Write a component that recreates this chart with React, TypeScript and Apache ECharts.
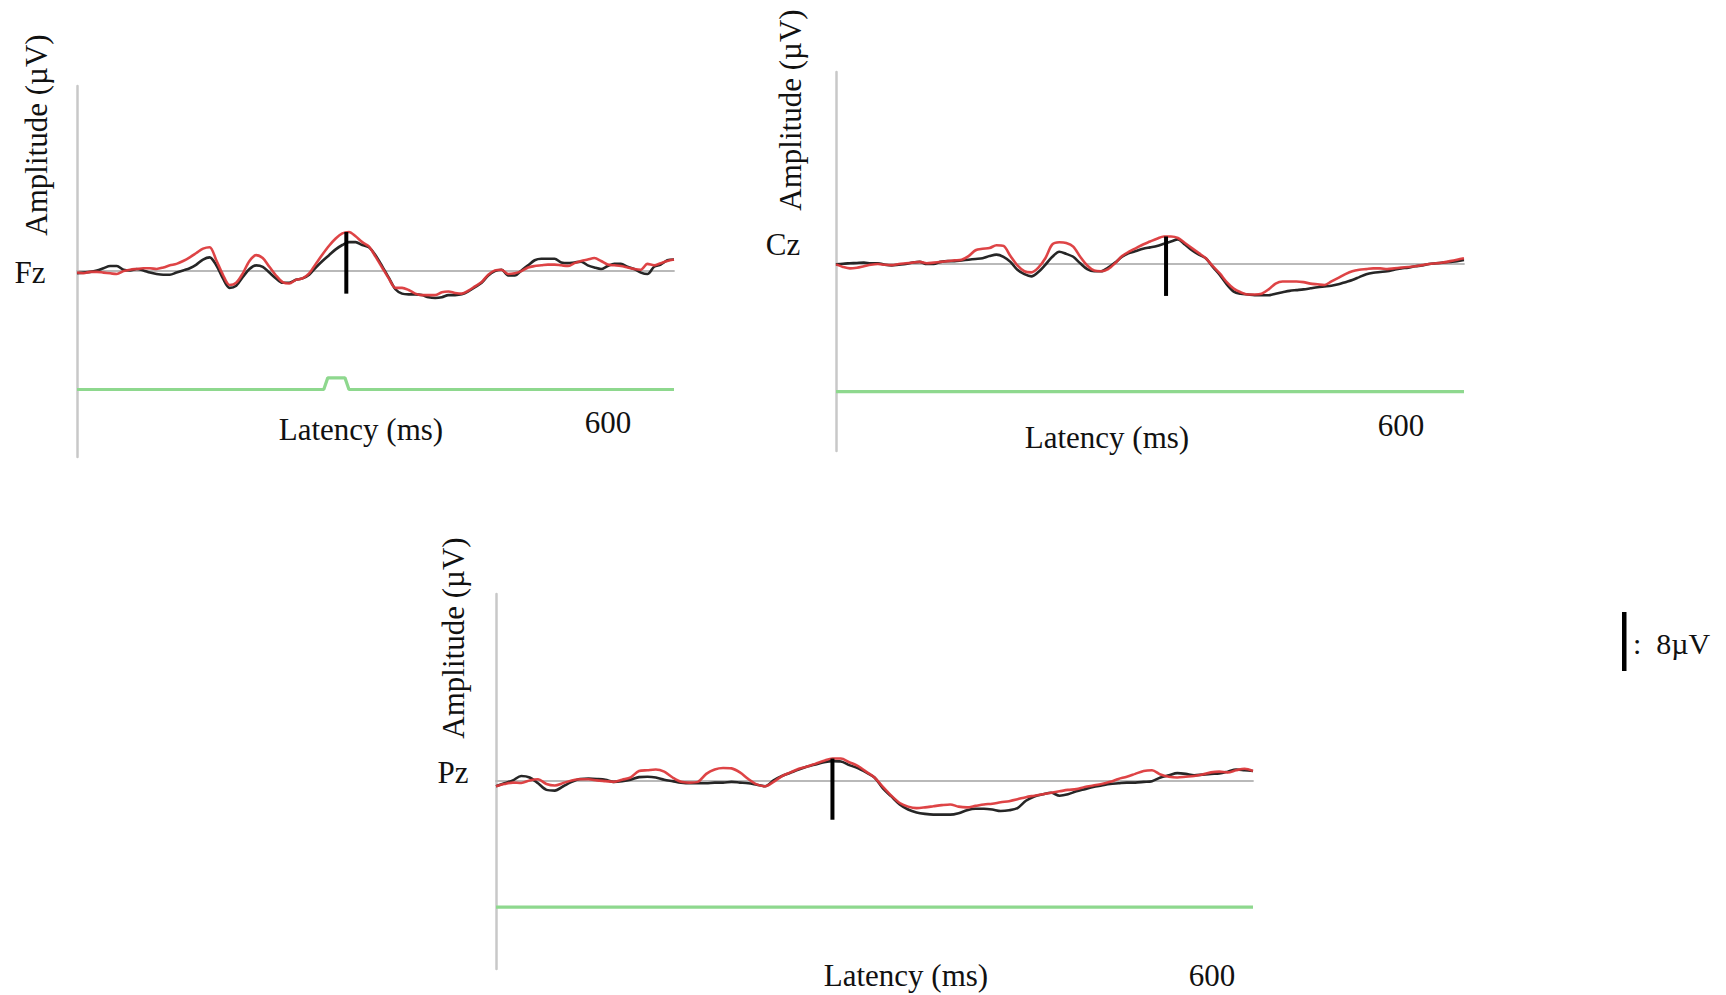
import React, { useEffect, useRef } from "react";
import * as echarts from "echarts";

// Sampling grid (ms)
const TIMES: number[] = [];
for (let t = -200; t <= 700; t += 10) TIMES.push(t);

// Fz (µV)
const FZ_BLACK = [-0.3,-0.2,-0.1,0.1,0.4,0.7,0.7,0.2,0.1,0.3,0.1,-0.2,-0.4,-0.5,-0.5,-0.2,0.1,0.4,0.9,1.6,1.9,0.8,-1.0,-2.3,-2.0,-0.8,0.3,0.8,0.6,-0.2,-1.0,-1.6,-1.6,-1.2,-1.0,-0.5,0.5,1.4,2.2,3.0,3.6,4.0,4.0,3.6,3.3,2.2,0.7,-0.9,-2.5,-3.1,-3.2,-3.2,-3.3,-3.6,-3.7,-3.6,-3.3,-3.3,-3.2,-2.8,-2.2,-1.6,-0.6,0.0,0.2,-0.6,-0.6,0.1,0.8,1.5,1.7,1.7,1.7,1.2,1.1,1.2,1.3,0.8,0.5,0.3,0.7,1.0,1.0,0.6,0.3,-0.2,-0.4,0.6,0.9,1.5,1.6];
const FZ_RED = [-0.2,-0.3,-0.1,-0.1,-0.2,-0.3,-0.4,0.0,0.2,0.3,0.4,0.4,0.3,0.5,0.8,1.0,1.4,1.9,2.5,3.1,3.3,1.5,-0.5,-1.9,-1.6,-0.3,1.4,2.2,1.8,0.6,-0.6,-1.5,-1.7,-1.2,-1.0,-0.3,1.0,2.3,3.5,4.5,5.2,5.4,4.8,4.0,3.4,2.0,0.5,-1.0,-2.3,-2.3,-2.6,-3.1,-3.3,-3.3,-3.3,-2.9,-2.8,-3.0,-3.1,-2.7,-2.1,-1.5,-0.5,0.1,0.2,-0.4,-0.3,0.0,0.5,0.7,0.8,0.9,0.9,0.8,0.7,1.1,1.4,1.6,1.8,1.4,0.9,0.8,0.7,0.5,0.3,0.2,1.0,0.8,1.1,1.4,1.6];

// Cz (µV)
const CZ_BLACK = [-0.15,-0.05,0.0,0.05,0.1,0.0,0.0,-0.2,-0.3,-0.2,-0.1,0.1,0.2,-0.1,-0.1,0.2,0.3,0.3,0.4,0.5,0.6,0.7,1.0,1.2,0.9,0.2,-0.9,-1.5,-1.8,-1.2,-0.2,0.9,1.6,1.3,0.9,0.0,-0.8,-1.1,-1.1,-0.6,0.1,0.9,1.4,1.7,2.0,2.2,2.4,2.7,3.0,3.3,2.6,1.8,1.2,0.7,-0.5,-1.6,-2.9,-3.9,-4.2,-4.3,-4.4,-4.4,-4.4,-4.2,-4.0,-3.8,-3.7,-3.6,-3.45,-3.3,-3.2,-3.1,-2.9,-2.6,-2.3,-1.9,-1.5,-1.3,-1.2,-1.1,-0.9,-0.7,-0.6,-0.4,-0.3,-0.1,0.0,0.1,0.2,0.3,0.45];
const CZ_RED = [-0.15,-0.5,-0.7,-0.6,-0.4,-0.2,-0.1,-0.2,-0.25,-0.1,0.0,0.1,0.2,0.0,0.1,0.2,0.3,0.4,0.5,1.0,1.8,2.0,2.1,2.5,2.4,1.0,-0.3,-1.1,-1.25,-0.6,0.7,2.6,2.9,2.8,2.3,0.9,-0.3,-1.0,-1.1,-0.8,0.0,1.0,1.6,2.1,2.6,3.0,3.4,3.7,3.7,3.5,2.8,2.1,1.4,0.7,-0.4,-1.4,-2.6,-3.5,-4.0,-4.3,-4.3,-4.2,-3.6,-2.8,-2.5,-2.5,-2.5,-2.6,-2.8,-2.9,-3.0,-2.5,-2.0,-1.5,-1.1,-0.9,-0.8,-0.7,-0.7,-0.8,-0.7,-0.6,-0.5,-0.4,-0.25,-0.1,0.0,0.1,0.3,0.5,0.7];

// Pz (µV)
const PZ_BLACK = [-0.7,-0.3,0.1,0.7,0.5,-0.3,-1.2,-1.3,-0.7,-0.1,0.3,0.35,0.3,0.2,-0.1,0.0,0.2,0.55,0.6,0.5,0.2,0.0,-0.2,-0.3,-0.3,-0.3,-0.2,-0.2,-0.1,-0.2,-0.3,-0.5,-0.7,0.1,0.7,1.15,1.6,2.0,2.3,2.6,2.75,2.7,2.2,1.8,1.2,0.5,-1.0,-2.1,-3.2,-3.9,-4.3,-4.5,-4.6,-4.6,-4.6,-4.4,-4.0,-3.8,-3.8,-3.9,-4.1,-4.0,-3.7,-2.7,-2.1,-1.8,-1.6,-2.0,-1.8,-1.4,-1.1,-0.8,-0.6,-0.4,-0.3,-0.2,-0.2,-0.1,0.0,0.5,0.8,1.1,1.0,0.8,0.9,1.0,1.05,1.3,1.6,1.5,1.4];
const PZ_RED = [-0.7,-0.4,-0.2,-0.25,0.1,0.25,-0.4,-0.6,-0.25,0.1,0.25,0.25,0.1,0.0,-0.1,0.2,0.5,1.4,1.5,1.6,1.3,0.5,-0.1,-0.2,-0.1,1.0,1.6,1.8,1.75,1.2,0.3,-0.45,-0.7,-0.1,0.7,1.2,1.7,2.0,2.4,2.8,3.1,3.1,2.6,2.1,1.3,0.5,-0.8,-2.0,-3.0,-3.5,-3.7,-3.6,-3.45,-3.3,-3.2,-3.5,-3.6,-3.4,-3.2,-3.1,-2.9,-2.75,-2.5,-2.2,-2.0,-1.8,-1.6,-1.4,-1.2,-1.1,-0.8,-0.6,-0.4,-0.1,0.3,0.6,1.0,1.4,1.5,0.9,0.6,0.5,0.6,0.7,0.9,1.2,1.3,1.2,1.5,1.7,1.4];

// Green traces (ms, µV)
const FZ_GREEN_T = [-200, 172, 178, 204, 210, 700];
const FZ_GREEN_V = [-16.3, -16.3, -14.7, -14.7, -16.3, -16.3];
const CZ_GREEN_T = [-200, 700];
const CZ_GREEN_V = [-17.7, -17.7];
const PZ_GREEN_T = [-200, 700];
const PZ_GREEN_V = [-17.3, -17.3];

// Peak markers (ms, top µV, bottom µV)
const MARKER_T = [206, 273, 200];
const MARKER_TOP = [5.4, 3.7, 3.1];
const MARKER_BOTTOM = [-3.1, -4.5, -5.3];

const ELECTRODES = ["Fz", "Cz", "Pz"];
const X_LABEL = "Latency (ms)";
const Y_LABEL = "Amplitude (\u00b5V)";
const TICK_LABEL = "600";
const SCALE_TEXT = ":  8\u00b5V";

const FONT = "Liberation Serif, Times New Roman, serif";

const App: React.FC = () => {
  const ref = useRef<HTMLDivElement>(null);
  useEffect(() => {
    if (!ref.current) return;
    const chart = echarts.init(ref.current, undefined, { renderer: "svg" });

    const panels = [
      { black: FZ_BLACK, red: FZ_RED, gT: FZ_GREEN_T, gV: FZ_GREEN_V, grid: { left: 77, top: 86, width: 597, height: 371 }, yMin: -25.6, yMax: 25.5 },
      { black: CZ_BLACK, red: CZ_RED, gT: CZ_GREEN_T, gV: CZ_GREEN_V, grid: { left: 836, top: 72, width: 628, height: 379 }, yMin: -25.9, yMax: 26.4 },
      { black: PZ_BLACK, red: PZ_RED, gT: PZ_GREEN_T, gV: PZ_GREEN_V, grid: { left: 496, top: 594, width: 757, height: 375 }, yMin: -25.8, yMax: 25.7 },
    ];

    const grids = panels.map((p) => ({ ...p.grid, containLabel: false }));
    const xAxes = panels.map((_, i) => ({
      type: "value",
      gridIndex: i,
      min: -200,
      max: 700,
      axisLine: { show: true, onZero: true, lineStyle: { color: "#b9b9b9", width: 1.8 } },
      axisTick: { show: false },
      axisLabel: { show: false },
      splitLine: { show: false },
    }));
    const yAxes = panels.map((p, i) => ({
      type: "value",
      gridIndex: i,
      min: p.yMin,
      max: p.yMax,
      axisLine: { show: true, onZero: false, lineStyle: { color: "#c8c8c8", width: 2.5 } },
      axisTick: { show: false },
      axisLabel: { show: false },
      splitLine: { show: false },
    }));

    const series: any[] = [];
    panels.forEach((p, i) => {
      series.push({
        type: "line", xAxisIndex: i, yAxisIndex: i, showSymbol: false, symbol: "none",
        data: p.gT.map((t, k) => [t, p.gV[k]]),
        lineStyle: { color: "#8ed88e", width: 3.2 }, z: 2,
      });
      series.push({
        type: "line", xAxisIndex: i, yAxisIndex: i, showSymbol: false, symbol: "none", smooth: 0.3,
        data: TIMES.map((t, k) => [t, p.black[k]]),
        lineStyle: { color: "#262626", width: 2.6 }, z: 3,
      });
      series.push({
        type: "line", xAxisIndex: i, yAxisIndex: i, showSymbol: false, symbol: "none", smooth: 0.3,
        data: TIMES.map((t, k) => [t, p.red[k]]),
        lineStyle: { color: "#dc3a3c", width: 2.6, opacity: 0.95 }, z: 4,
      });
      series.push({
        type: "line", xAxisIndex: i, yAxisIndex: i, showSymbol: false, symbol: "none",
        data: [[MARKER_T[i], MARKER_TOP[i]], [MARKER_T[i], MARKER_BOTTOM[i]]],
        lineStyle: { color: "#000000", width: 4, cap: "butt" }, z: 5,
      });
    });

    const txt = (x: number, y: number, text: string, rot = 0, size = 31, align = "center") => ({
      type: "text",
      x, y, rotation: rot,
      style: { text, font: `${size}px ${FONT}`, fill: "#111111", align, verticalAlign: "middle" },
      z: 10,
    });

    const graphic: any[] = [
      txt(30, 272, ELECTRODES[0]),
      txt(783, 244, ELECTRODES[1]),
      txt(453, 772, ELECTRODES[2]),
      txt(36, 135, Y_LABEL, Math.PI / 2),
      txt(790, 110, Y_LABEL, Math.PI / 2),
      txt(453, 638, Y_LABEL, Math.PI / 2),
      txt(361, 429, X_LABEL),
      txt(1107, 437, X_LABEL),
      txt(906, 975, X_LABEL),
      txt(608, 422, TICK_LABEL),
      txt(1401, 425, TICK_LABEL),
      txt(1212, 975, TICK_LABEL),
      { type: "rect", shape: { x: 1622, y: 612, width: 4.5, height: 59 }, style: { fill: "#000" }, z: 10 },
      txt(1633, 643, SCALE_TEXT, 0, 30, "left"),
    ];

    chart.setOption({
      animation: false,
      backgroundColor: "#ffffff",
      grid: grids,
      xAxis: xAxes,
      yAxis: yAxes,
      series,
      graphic,
    });
    return () => chart.dispose();
  }, []);

  return <div ref={ref} style={{ position: "absolute", left: 0, top: 0, width: 1726, height: 995 }} />;
};

export default App;
